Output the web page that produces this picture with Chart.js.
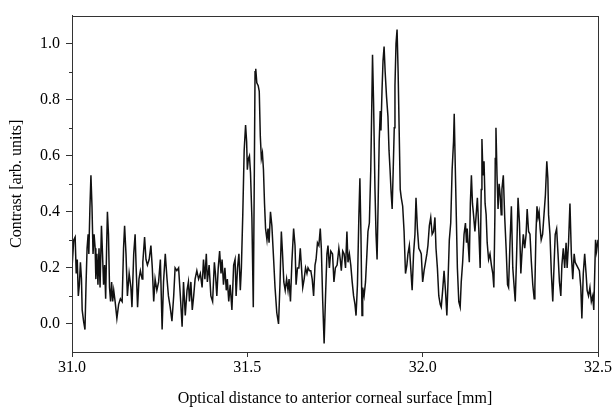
<!DOCTYPE html>
<html>
<head>
<meta charset="utf-8">
<script src="https://cdn.jsdelivr.net/npm/chart.js@4.4.1/dist/chart.umd.min.js"></script>
<style>
  html, body { margin: 0; padding: 0; background: #fff; }
  #wrap { width: 615px; height: 408px; }
</style>
</head>
<body>
<div id="wrap"><canvas id="contrastChart"></canvas></div>
<script>
// Optical distance [mm] and contrast [arb. units]
var distance = [
  31.000, 31.005, 31.009, 31.012, 31.015, 31.018, 31.021, 31.024, 31.027, 31.029,
  31.033, 31.037, 31.040, 31.043, 31.046, 31.048, 31.051, 31.054, 31.057, 31.060,
  31.063, 31.066, 31.068, 31.071, 31.074, 31.077, 31.080, 31.084, 31.087, 31.090,
  31.093, 31.096, 31.099, 31.101, 31.104, 31.107, 31.110, 31.113, 31.116, 31.119,
  31.123, 31.128, 31.133, 31.138, 31.143, 31.147, 31.150, 31.154, 31.158, 31.163,
  31.168, 31.171, 31.176, 31.180, 31.183, 31.187, 31.191, 31.195, 31.200, 31.202,
  31.207, 31.211, 31.215, 31.220, 31.225, 31.229, 31.233, 31.237, 31.242, 31.247,
  31.252, 31.257, 31.261, 31.266, 31.271, 31.275, 31.280, 31.285, 31.290, 31.294,
  31.299, 31.304, 31.309, 31.314, 31.318, 31.323, 31.328, 31.332, 31.335, 31.339,
  31.343, 31.347, 31.351, 31.356, 31.361, 31.366, 31.371, 31.375, 31.379, 31.383,
  31.386, 31.391, 31.396, 31.401, 31.406, 31.409, 31.413, 31.417, 31.421, 31.425,
  31.428, 31.432, 31.436, 31.440, 31.443, 31.447, 31.451, 31.456, 31.461, 31.465,
  31.468, 31.472, 31.476, 31.480, 31.483, 31.487, 31.491, 31.495, 31.498, 31.500,
  31.503, 31.506, 31.509, 31.513, 31.517, 31.520, 31.522, 31.524, 31.527, 31.531,
  31.534, 31.537, 31.540, 31.543, 31.546, 31.549, 31.552, 31.556, 31.559, 31.562,
  31.566, 31.570, 31.575, 31.579, 31.584, 31.589, 31.593, 31.597, 31.600, 31.604,
  31.608, 31.612, 31.616, 31.619, 31.623, 31.627, 31.632, 31.636, 31.639, 31.643,
  31.647, 31.651, 31.654, 31.658, 31.662, 31.666, 31.670, 31.673, 31.677, 31.681,
  31.685, 31.689, 31.693, 31.696, 31.700, 31.704, 31.708, 31.711, 31.715, 31.719,
  31.723, 31.727, 31.730, 31.734, 31.738, 31.743, 31.747, 31.751, 31.756, 31.761,
  31.765, 31.768, 31.772, 31.776, 31.780, 31.784, 31.787, 31.791, 31.795, 31.799,
  31.803, 31.807, 31.810, 31.814, 31.818, 31.821, 31.824, 31.827, 31.829, 31.833,
  31.837, 31.841, 31.844, 31.848, 31.852, 31.855, 31.857, 31.860, 31.864, 31.867,
  31.870, 31.873, 31.876, 31.879, 31.881, 31.884, 31.887, 31.890, 31.893, 31.897,
  31.901, 31.904, 31.907, 31.910, 31.913, 31.916, 31.919, 31.921, 31.924, 31.927,
  31.930, 31.933, 31.936, 31.939, 31.943, 31.947, 31.951, 31.955, 31.958, 31.962,
  31.966, 31.970, 31.974, 31.978, 31.981, 31.985, 31.989, 31.993, 31.996, 32.000,
  32.004, 32.008, 32.012, 32.015, 32.019, 32.023, 32.027, 32.031, 32.035, 32.038,
  32.042, 32.046, 32.050, 32.053, 32.057, 32.061, 32.065, 32.069, 32.072, 32.076,
  32.080, 32.084, 32.088, 32.090, 32.093, 32.096, 32.099, 32.103, 32.107, 32.110,
  32.114, 32.118, 32.122, 32.125, 32.127, 32.130, 32.133, 32.136, 32.139, 32.142,
  32.145, 32.149, 32.152, 32.156, 32.160, 32.164, 32.167, 32.169, 32.172, 32.175,
  32.178, 32.181, 32.184, 32.188, 32.192, 32.196, 32.200, 32.203, 32.206, 32.207,
  32.209, 32.212, 32.215, 32.218, 32.221, 32.224, 32.226, 32.230, 32.234, 32.238,
  32.242, 32.245, 32.249, 32.253, 32.257, 32.261, 32.264, 32.268, 32.272, 32.276,
  32.280, 32.283, 32.287, 32.291, 32.295, 32.298, 32.302, 32.306, 32.310, 32.314,
  32.318, 32.320, 32.323, 32.326, 32.329, 32.332, 32.335, 32.338, 32.342, 32.346,
  32.350, 32.354, 32.357, 32.359, 32.363, 32.367, 32.371, 32.375, 32.378, 32.382,
  32.386, 32.390, 32.394, 32.397, 32.401, 32.405, 32.409, 32.412, 32.416, 32.420,
  32.424, 32.428, 32.432, 32.435, 32.439, 32.443, 32.447, 32.451, 32.454, 32.458,
  32.462, 32.466, 32.469, 32.473, 32.477, 32.481, 32.485, 32.488, 32.491, 32.493,
  32.496, 32.500
];
var contrast = [
  0.20, 0.30, 0.31, 0.18, 0.23, 0.10, 0.14, 0.22, 0.16, 0.05,
  0.01, -0.02, 0.14, 0.27, 0.32, 0.25, 0.41, 0.53, 0.42, 0.25,
  0.32, 0.27, 0.16, 0.25, 0.14, 0.27, 0.13, 0.35, 0.25, 0.14,
  0.21, 0.09, 0.29, 0.40, 0.32, 0.13, 0.08, 0.15, 0.08, 0.12,
  0.08, 0.02, 0.07, 0.09, 0.08, 0.27, 0.35, 0.25, 0.10, 0.18,
  0.13, 0.06, 0.25, 0.32, 0.20, 0.06, 0.16, 0.19, 0.16, 0.22,
  0.31, 0.23, 0.21, 0.23, 0.28, 0.20, 0.08, 0.16, 0.12, 0.15,
  0.23, -0.02, 0.15, 0.25, 0.16, 0.10, 0.06, 0.01, 0.10, 0.20,
  0.19, 0.20, 0.10, -0.01, 0.15, 0.03, 0.12, 0.15, 0.08, 0.15,
  0.05, 0.10, 0.16, 0.19, 0.16, 0.18, 0.13, 0.23, 0.16, 0.25,
  0.15, 0.21, 0.10, 0.08, 0.22, 0.18, 0.10, 0.20, 0.26, 0.18,
  0.23, 0.14, 0.20, 0.12, 0.16, 0.08, 0.14, 0.05, 0.21, 0.23,
  0.10, 0.20, 0.25, 0.12, 0.20, 0.39, 0.62, 0.71, 0.65, 0.55,
  0.59, 0.60, 0.54, 0.38, 0.06, 0.55, 0.90, 0.91, 0.86, 0.85,
  0.83, 0.67, 0.59, 0.61, 0.55, 0.43, 0.34, 0.30, 0.34, 0.29,
  0.40, 0.35, 0.23, 0.13, 0.04, 0.00, 0.14, 0.33, 0.26, 0.15,
  0.12, 0.16, 0.12, 0.16, 0.08, 0.22, 0.34, 0.28, 0.14, 0.20,
  0.20, 0.27, 0.21, 0.13, 0.16, 0.20, 0.18, 0.20, 0.19, 0.19,
  0.16, 0.10, 0.21, 0.23, 0.29, 0.28, 0.34, 0.27, 0.08, -0.07,
  0.10, 0.25, 0.28, 0.20, 0.26, 0.25, 0.15, 0.20, 0.21, 0.27,
  0.23, 0.19, 0.26, 0.25, 0.20, 0.33, 0.22, 0.25, 0.21, 0.15,
  0.10, 0.07, 0.03, 0.14, 0.38, 0.52, 0.32, 0.03, 0.13, 0.10,
  0.15, 0.25, 0.33, 0.36, 0.55, 0.79, 0.96, 0.79, 0.48, 0.32,
  0.23, 0.43, 0.65, 0.76, 0.69, 0.83, 0.94, 0.99, 0.90, 0.81,
  0.74, 0.62, 0.55, 0.47, 0.41, 0.55, 0.70, 0.85, 1.00, 1.05,
  0.90, 0.69, 0.48, 0.45, 0.42, 0.33, 0.18, 0.21, 0.25, 0.28,
  0.20, 0.12, 0.25, 0.32, 0.45, 0.34, 0.27, 0.26, 0.25, 0.15,
  0.19, 0.22, 0.25, 0.28, 0.35, 0.38, 0.32, 0.33, 0.38, 0.27,
  0.20, 0.10, 0.07, 0.06, 0.12, 0.19, 0.12, 0.03, 0.14, 0.30,
  0.36, 0.55, 0.65, 0.75, 0.56, 0.38, 0.20, 0.08, 0.06, 0.15,
  0.22, 0.32, 0.36, 0.29, 0.34, 0.28, 0.22, 0.43, 0.53, 0.43,
  0.39, 0.33, 0.38, 0.45, 0.34, 0.20, 0.48, 0.66, 0.53, 0.58,
  0.43, 0.39, 0.29, 0.23, 0.25, 0.21, 0.18, 0.13, 0.39, 0.59,
  0.70, 0.53, 0.41, 0.50, 0.46, 0.39, 0.48, 0.53, 0.38, 0.27,
  0.14, 0.13, 0.29, 0.42, 0.20, 0.13, 0.08, 0.25, 0.45, 0.36,
  0.18, 0.25, 0.32, 0.27, 0.32, 0.41, 0.33, 0.32, 0.22, 0.14,
  0.09, 0.13, 0.32, 0.42, 0.38, 0.40, 0.34, 0.30, 0.32, 0.39,
  0.46, 0.58, 0.52, 0.39, 0.32, 0.18, 0.08, 0.22, 0.32, 0.34,
  0.25, 0.15, 0.10, 0.21, 0.27, 0.20, 0.29, 0.20, 0.29, 0.43,
  0.25, 0.16, 0.25, 0.22, 0.21, 0.20, 0.19, 0.13, 0.02, 0.18,
  0.25, 0.18, 0.12, 0.10, 0.13, 0.08, 0.10, 0.05, 0.20, 0.30,
  0.26, 0.30
];
var xTicks = [31.0, 31.5, 32.0, 32.5];
var yTicks = [0.0, 0.2, 0.4, 0.6, 0.8, 1.0];
var yMinorTicks = [0.1, 0.3, 0.5, 0.7, 0.9];

var axisColor = "#333";
var fontFamily = "'Liberation Serif', 'Times New Roman', serif";

var points = distance.map(function (d, i) {
  return { x: d, y: contrast[i] };
});

// short minor ticks on the y axis and the box round the plot
var frameAndMinorTicks = {
  id: "frameAndMinorTicks",
  afterDraw: function (chart) {
    var ctx = chart.ctx;
    var area = chart.chartArea;
    var yScale = chart.scales.y;
    ctx.save();
    ctx.strokeStyle = axisColor;
    ctx.lineWidth = 1;
    ctx.beginPath();
    yMinorTicks.forEach(function (v) {
      var py = Math.round(yScale.getPixelForValue(v)) + 0.5;
      ctx.moveTo(area.left - 3, py);
      ctx.lineTo(area.left, py);
    });
    ctx.stroke();
    ctx.strokeRect(
      Math.round(area.left) + 0.5,
      Math.round(area.top) + 0.5,
      Math.round(area.right - area.left),
      Math.round(area.bottom - area.top)
    );
    ctx.restore();
  },
};

var ctx = document.getElementById("contrastChart").getContext("2d");
window.contrastChart = new Chart(ctx, {
  type: "line",
  data: {
    datasets: [
      {
        data: points,
        borderColor: "#111",
        borderWidth: 1.5,
        pointRadius: 0,
        tension: 0,
        fill: false,
      },
    ],
  },
  options: {
    responsive: true,
    maintainAspectRatio: false,
    animation: false,
    layout: {
      padding: { top: 11, right: 17, bottom: 0, left: 0 },
    },
    plugins: {
      legend: { display: false },
      tooltip: { enabled: false },
    },
    scales: {
      x: {
        type: "linear",
        min: 31.0,
        max: 32.5,
        afterBuildTicks: function (scale) {
          scale.ticks = xTicks.map(function (v) {
            return { value: v };
          });
        },
        afterFit: function (scale) {
          scale.height = 56;
        },
        grid: {
          drawOnChartArea: false,
          drawTicks: true,
          tickLength: 5,
          color: axisColor,
        },
        border: { color: axisColor },
        ticks: {
          padding: 1,
          color: "#000",
          font: { family: fontFamily, size: 16 },
          callback: function (v) {
            return Number(v).toFixed(1);
          },
        },
        title: {
          display: true,
          text: "Optical distance to anterior corneal surface [mm]",
          color: "#000",
          font: { family: fontFamily, size: 16 },
          padding: { top: 0, bottom: 0 },
        },
      },
      y: {
        min: -0.1,
        max: 1.1,
        afterBuildTicks: function (scale) {
          scale.ticks = yTicks.map(function (v) {
            return { value: v };
          });
        },
        afterFit: function (scale) {
          scale.width = 72;
        },
        grid: {
          drawOnChartArea: false,
          drawTicks: true,
          tickLength: 6,
          color: axisColor,
        },
        border: { color: axisColor },
        ticks: {
          padding: 6,
          color: "#000",
          font: { family: fontFamily, size: 16 },
          callback: function (v) {
            return Number(v).toFixed(1);
          },
        },
        title: {
          display: true,
          text: "Contrast [arb. units]",
          color: "#000",
          font: { family: fontFamily, size: 16 },
          padding: { top: 7, bottom: 0 },
        },
      },
    },
  },
  plugins: [frameAndMinorTicks],
});
</script>
</body>
</html>
